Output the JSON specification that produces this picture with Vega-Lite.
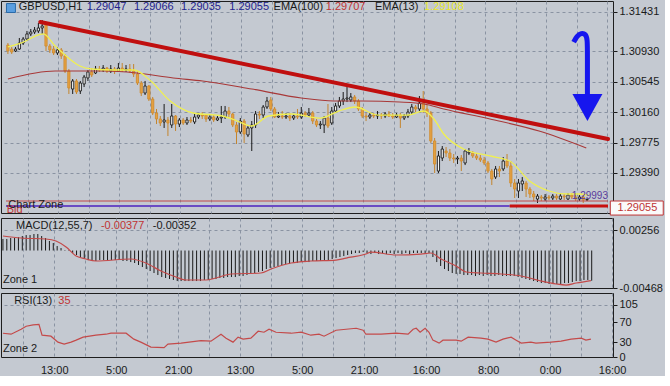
{
"$schema":"https://vega.github.io/schema/vega-lite/v6.json",
"background":"#c4c9d1",
"padding":0,
"bounds":"flush",
"spacing":5,
"config":{"view":{"stroke":"#1e1e1e","strokeWidth":1},
"axis":{"labelFont":"Liberation Sans","labelFontSize":11,"labelColor":"#1a1a1a","gridColor":"#8a93a2","gridDash":[3,3],"gridWidth":1,"tickColor":"#1a1a1a","domain":false},
"text":{"font":"Liberation Sans","fontSize":11,"baseline":"middle","align":"left"}},
"datasets":{
"candles":[
{"i":0,"o":1.31012,"h":1.31037,"l":1.30898,"c":1.30936,"m":0.00144},
{"i":1,"o":1.30961,"h":1.30987,"l":1.30898,"c":1.30923,"m":0.00144},
{"i":2,"o":1.30936,"h":1.30987,"l":1.30923,"c":1.30961,"m":0.00156},
{"i":3,"o":1.30961,"h":1.31101,"l":1.30949,"c":1.31037,"m":0.00156},
{"i":4,"o":1.31037,"h":1.31113,"l":1.31012,"c":1.31088,"m":0.00168},
{"i":5,"o":1.31088,"h":1.3119,"l":1.31063,"c":1.31152,"m":0.00181},
{"i":6,"o":1.31152,"h":1.31215,"l":1.31126,"c":1.31177,"m":0.00193},
{"i":7,"o":1.31177,"h":1.3124,"l":1.31152,"c":1.31202,"m":0.00193},
{"i":8,"o":1.3119,"h":1.31291,"l":1.31164,"c":1.31228,"m":0.00206},
{"i":9,"o":1.31228,"h":1.31329,"l":1.31152,"c":1.31253,"m":0.00206},
{"i":10,"o":1.31266,"h":1.31291,"l":1.30936,"c":1.30999,"m":0.00181},
{"i":11,"o":1.30999,"h":1.31025,"l":1.30911,"c":1.30949,"m":0.00156},
{"i":12,"o":1.30961,"h":1.30999,"l":1.30885,"c":1.30911,"m":0.00119},
{"i":13,"o":1.30911,"h":1.30987,"l":1.30885,"c":1.30949,"m":0.00094},
{"i":14,"o":1.30949,"h":1.30974,"l":1.30835,"c":1.30873,"m":0.00056},
{"i":15,"o":1.30873,"h":1.30898,"l":1.30657,"c":1.30682,"m":0.00031},
{"i":16,"o":1.30682,"h":1.30708,"l":1.30391,"c":1.30467,"m":0.00006},
{"i":17,"o":1.30454,"h":1.30581,"l":1.30391,"c":1.30556,"m":-0.00006},
{"i":18,"o":1.30556,"h":1.30581,"l":1.30391,"c":1.30416,"m":-0.00031},
{"i":19,"o":1.30429,"h":1.30556,"l":1.30391,"c":1.3053,"m":-0.00056},
{"i":20,"o":1.30518,"h":1.30632,"l":1.30479,"c":1.30606,"m":-0.00081},
{"i":21,"o":1.30594,"h":1.30695,"l":1.30556,"c":1.3067,"m":-0.00106},
{"i":22,"o":1.3067,"h":1.3072,"l":1.30606,"c":1.30632,"m":-0.00119},
{"i":23,"o":1.30657,"h":1.30746,"l":1.30644,"c":1.30708,"m":-0.00131},
{"i":24,"o":1.30708,"h":1.30746,"l":1.3067,"c":1.30695,"m":-0.00131},
{"i":25,"o":1.30695,"h":1.30758,"l":1.3067,"c":1.3072,"m":-0.00119},
{"i":26,"o":1.3072,"h":1.30733,"l":1.30657,"c":1.30682,"m":-0.00119},
{"i":27,"o":1.30682,"h":1.30758,"l":1.30657,"c":1.30708,"m":-0.00119},
{"i":28,"o":1.30708,"h":1.30733,"l":1.30644,"c":1.30682,"m":-0.00119},
{"i":29,"o":1.30682,"h":1.30784,"l":1.3067,"c":1.3072,"m":-0.00119},
{"i":30,"o":1.3072,"h":1.30784,"l":1.3067,"c":1.30695,"m":-0.00119},
{"i":31,"o":1.30695,"h":1.30758,"l":1.3067,"c":1.30708,"m":-0.00131},
{"i":32,"o":1.30708,"h":1.30771,"l":1.30657,"c":1.30682,"m":-0.00131},
{"i":33,"o":1.30682,"h":1.30771,"l":1.30606,"c":1.30644,"m":-0.00144},
{"i":34,"o":1.30644,"h":1.30682,"l":1.30505,"c":1.3053,"m":-0.00156},
{"i":35,"o":1.3053,"h":1.30556,"l":1.30365,"c":1.30403,"m":-0.00181},
{"i":36,"o":1.30403,"h":1.30556,"l":1.30378,"c":1.30492,"m":-0.00206},
{"i":37,"o":1.30492,"h":1.30505,"l":1.30302,"c":1.30327,"m":-0.00231},
{"i":38,"o":1.30327,"h":1.30353,"l":1.30124,"c":1.3015,"m":-0.00256},
{"i":39,"o":1.3015,"h":1.30201,"l":1.3001,"c":1.30074,"m":-0.00281},
{"i":40,"o":1.30074,"h":1.30112,"l":1.29985,"c":1.30023,"m":-0.00306},
{"i":41,"o":1.30036,"h":1.30264,"l":1.2996,"c":1.30061,"m":-0.00331},
{"i":42,"o":1.30061,"h":1.30099,"l":1.29858,"c":1.30023,"m":-0.00343},
{"i":43,"o":1.29998,"h":1.30264,"l":1.2996,"c":1.30112,"m":-0.00356},
{"i":44,"o":1.30112,"h":1.30124,"l":1.29922,"c":1.3001,"m":-0.00368},
{"i":45,"o":1.3001,"h":1.30086,"l":1.29972,"c":1.30061,"m":-0.00381},
{"i":46,"o":1.30061,"h":1.30086,"l":1.29998,"c":1.30023,"m":-0.00381},
{"i":47,"o":1.30023,"h":1.30099,"l":1.29998,"c":1.30061,"m":-0.00381},
{"i":48,"o":1.30061,"h":1.30099,"l":1.30023,"c":1.30048,"m":-0.00381},
{"i":49,"o":1.30036,"h":1.30137,"l":1.3001,"c":1.30099,"m":-0.00381},
{"i":50,"o":1.30099,"h":1.3015,"l":1.30074,"c":1.30124,"m":-0.00381},
{"i":51,"o":1.30124,"h":1.30162,"l":1.30074,"c":1.30112,"m":-0.00381},
{"i":52,"o":1.30124,"h":1.30137,"l":1.30036,"c":1.30074,"m":-0.00368},
{"i":53,"o":1.30074,"h":1.30137,"l":1.30048,"c":1.30099,"m":-0.00368},
{"i":54,"o":1.30099,"h":1.30124,"l":1.30036,"c":1.30061,"m":-0.00356},
{"i":55,"o":1.30061,"h":1.30112,"l":1.30048,"c":1.30086,"m":-0.00356},
{"i":56,"o":1.30086,"h":1.30239,"l":1.30023,"c":1.30099,"m":-0.00343},
{"i":57,"o":1.30099,"h":1.30239,"l":1.30074,"c":1.30175,"m":-0.00343},
{"i":58,"o":1.30175,"h":1.30226,"l":1.30099,"c":1.30137,"m":-0.00331},
{"i":59,"o":1.30137,"h":1.3015,"l":1.29972,"c":1.29998,"m":-0.00331},
{"i":60,"o":1.29998,"h":1.30036,"l":1.29757,"c":1.29909,"m":-0.00331},
{"i":61,"o":1.29909,"h":1.30086,"l":1.29884,"c":1.30048,"m":-0.00318},
{"i":62,"o":1.30048,"h":1.30074,"l":1.29769,"c":1.29884,"m":-0.00318},
{"i":63,"o":1.29871,"h":1.29985,"l":1.29845,"c":1.2996,"m":-0.00306},
{"i":64,"o":1.2996,"h":1.30048,"l":1.29668,"c":1.29998,"m":-0.00293},
{"i":65,"o":1.29998,"h":1.30175,"l":1.2996,"c":1.30137,"m":-0.00281},
{"i":66,"o":1.30137,"h":1.30175,"l":1.30074,"c":1.30124,"m":-0.00268},
{"i":67,"o":1.30124,"h":1.30251,"l":1.30086,"c":1.30226,"m":-0.00256},
{"i":68,"o":1.30226,"h":1.30353,"l":1.30201,"c":1.30302,"m":-0.00231},
{"i":69,"o":1.30315,"h":1.30353,"l":1.30175,"c":1.30201,"m":-0.00218},
{"i":70,"o":1.30201,"h":1.30226,"l":1.30086,"c":1.30099,"m":-0.00206},
{"i":71,"o":1.30099,"h":1.30162,"l":1.30086,"c":1.30112,"m":-0.00193},
{"i":72,"o":1.30112,"h":1.30175,"l":1.30074,"c":1.30099,"m":-0.00181},
{"i":73,"o":1.30099,"h":1.3015,"l":1.30074,"c":1.30112,"m":-0.00168},
{"i":74,"o":1.30112,"h":1.3015,"l":1.30048,"c":1.30086,"m":-0.00168},
{"i":75,"o":1.30086,"h":1.30137,"l":1.30061,"c":1.30112,"m":-0.00156},
{"i":76,"o":1.30112,"h":1.30201,"l":1.30074,"c":1.30099,"m":-0.00156},
{"i":77,"o":1.30099,"h":1.30226,"l":1.30074,"c":1.3015,"m":-0.00144},
{"i":78,"o":1.3015,"h":1.30175,"l":1.30099,"c":1.30124,"m":-0.00144},
{"i":79,"o":1.30124,"h":1.30213,"l":1.30099,"c":1.3015,"m":-0.00144},
{"i":80,"o":1.3015,"h":1.30175,"l":1.3001,"c":1.30048,"m":-0.00131},
{"i":81,"o":1.30048,"h":1.30074,"l":1.29972,"c":1.29998,"m":-0.00131},
{"i":82,"o":1.29998,"h":1.30048,"l":1.29947,"c":1.3001,"m":-0.00131},
{"i":83,"o":1.29998,"h":1.30112,"l":1.29896,"c":1.30086,"m":-0.00131},
{"i":84,"o":1.30086,"h":1.30264,"l":1.2996,"c":1.29985,"m":-0.00119},
{"i":85,"o":1.30023,"h":1.30226,"l":1.29998,"c":1.30175,"m":-0.00106},
{"i":86,"o":1.30175,"h":1.30277,"l":1.3015,"c":1.30239,"m":-0.00094},
{"i":87,"o":1.30239,"h":1.30353,"l":1.30213,"c":1.30302,"m":-0.00081},
{"i":88,"o":1.30302,"h":1.30416,"l":1.30251,"c":1.30327,"m":-0.00069},
{"i":89,"o":1.30327,"h":1.30479,"l":1.30289,"c":1.3034,"m":-0.00056},
{"i":90,"o":1.30315,"h":1.30403,"l":1.30289,"c":1.30353,"m":-0.00044},
{"i":91,"o":1.30353,"h":1.30378,"l":1.30264,"c":1.30302,"m":-0.00031},
{"i":92,"o":1.30302,"h":1.30327,"l":1.30175,"c":1.30201,"m":-0.00031},
{"i":93,"o":1.30201,"h":1.30226,"l":1.30086,"c":1.30112,"m":-0.00019},
{"i":94,"o":1.30112,"h":1.3015,"l":1.30048,"c":1.30099,"m":-0.00031},
{"i":95,"o":1.30099,"h":1.3015,"l":1.30074,"c":1.30124,"m":-0.00044},
{"i":96,"o":1.30124,"h":1.3015,"l":1.30086,"c":1.30112,"m":-0.00031},
{"i":97,"o":1.30112,"h":1.30175,"l":1.30074,"c":1.30124,"m":-0.00044},
{"i":98,"o":1.30124,"h":1.3015,"l":1.30074,"c":1.30112,"m":-0.00031},
{"i":99,"o":1.30112,"h":1.30162,"l":1.30086,"c":1.30137,"m":-0.00044},
{"i":100,"o":1.30137,"h":1.30175,"l":1.30099,"c":1.30112,"m":-0.00031},
{"i":101,"o":1.30112,"h":1.3015,"l":1.30074,"c":1.30099,"m":-0.00044},
{"i":102,"o":1.30099,"h":1.3015,"l":1.30086,"c":1.30124,"m":-0.00031},
{"i":103,"o":1.30124,"h":1.3015,"l":1.2996,"c":1.30086,"m":-0.00044},
{"i":104,"o":1.30086,"h":1.30137,"l":1.30061,"c":1.30112,"m":-0.00031},
{"i":105,"o":1.30112,"h":1.30201,"l":1.30086,"c":1.30162,"m":-0.00044},
{"i":106,"o":1.30162,"h":1.30264,"l":1.30137,"c":1.30226,"m":-0.00031},
{"i":107,"o":1.30226,"h":1.30251,"l":1.30162,"c":1.30201,"m":-0.00031},
{"i":108,"o":1.30201,"h":1.30365,"l":1.30175,"c":1.30277,"m":-0.00031},
{"i":109,"o":1.30277,"h":1.30429,"l":1.3015,"c":1.30201,"m":-0.00031},
{"i":110,"o":1.30201,"h":1.30251,"l":1.30099,"c":1.3015,"m":-0.00031},
{"i":111,"o":1.3015,"h":1.30175,"l":1.29769,"c":1.29795,"m":-0.00081},
{"i":112,"o":1.29795,"h":1.29833,"l":1.29389,"c":1.29503,"m":-0.00144},
{"i":113,"o":1.29414,"h":1.29668,"l":1.29389,"c":1.29605,"m":-0.00193},
{"i":114,"o":1.29579,"h":1.29731,"l":1.29541,"c":1.29693,"m":-0.00231},
{"i":115,"o":1.29668,"h":1.29719,"l":1.29592,"c":1.29643,"m":-0.00256},
{"i":116,"o":1.29643,"h":1.29693,"l":1.29541,"c":1.29579,"m":-0.00281},
{"i":117,"o":1.29579,"h":1.2963,"l":1.29516,"c":1.29567,"m":-0.00293},
{"i":118,"o":1.29567,"h":1.29605,"l":1.29503,"c":1.29579,"m":-0.00293},
{"i":119,"o":1.29579,"h":1.29617,"l":1.29414,"c":1.29541,"m":-0.00306},
{"i":120,"o":1.29516,"h":1.29693,"l":1.2949,"c":1.29668,"m":-0.00306},
{"i":121,"o":1.29643,"h":1.29706,"l":1.29617,"c":1.29655,"m":-0.00306},
{"i":122,"o":1.29643,"h":1.29668,"l":1.29579,"c":1.29605,"m":-0.00318},
{"i":123,"o":1.29605,"h":1.29643,"l":1.29554,"c":1.29579,"m":-0.00306},
{"i":124,"o":1.29579,"h":1.29617,"l":1.29529,"c":1.29554,"m":-0.00318},
{"i":125,"o":1.29554,"h":1.29592,"l":1.2949,"c":1.29516,"m":-0.00306},
{"i":126,"o":1.29516,"h":1.29541,"l":1.29389,"c":1.29414,"m":-0.00318},
{"i":127,"o":1.29414,"h":1.2944,"l":1.29237,"c":1.29313,"m":-0.00318},
{"i":128,"o":1.29338,"h":1.29478,"l":1.29313,"c":1.2944,"m":-0.00306},
{"i":129,"o":1.2944,"h":1.29478,"l":1.29338,"c":1.29414,"m":-0.00318},
{"i":130,"o":1.2944,"h":1.29592,"l":1.29414,"c":1.29541,"m":-0.00318},
{"i":131,"o":1.29541,"h":1.2963,"l":1.29452,"c":1.29478,"m":-0.00318},
{"i":132,"o":1.29478,"h":1.29541,"l":1.29212,"c":1.29262,"m":-0.00318},
{"i":133,"o":1.29262,"h":1.29313,"l":1.29072,"c":1.29186,"m":-0.00331},
{"i":134,"o":1.29161,"h":1.29313,"l":1.29072,"c":1.29262,"m":-0.00343},
{"i":135,"o":1.2925,"h":1.29338,"l":1.29161,"c":1.29288,"m":-0.00356},
{"i":136,"o":1.29262,"h":1.29288,"l":1.29085,"c":1.29186,"m":-0.00368},
{"i":137,"o":1.29186,"h":1.29212,"l":1.29072,"c":1.29123,"m":-0.00381},
{"i":138,"o":1.29123,"h":1.29161,"l":1.29034,"c":1.29085,"m":-0.00393},
{"i":139,"o":1.29059,"h":1.29123,"l":1.29009,"c":1.29097,"m":-0.00406},
{"i":140,"o":1.29085,"h":1.2911,"l":1.29034,"c":1.29072,"m":-0.00406},
{"i":141,"o":1.29059,"h":1.29123,"l":1.29034,"c":1.29085,"m":-0.00418},
{"i":142,"o":1.29085,"h":1.2911,"l":1.29047,"c":1.29072,"m":-0.00418},
{"i":143,"o":1.29072,"h":1.29123,"l":1.29047,"c":1.29097,"m":-0.00418},
{"i":144,"o":1.29097,"h":1.29123,"l":1.29047,"c":1.29072,"m":-0.00418},
{"i":145,"o":1.29059,"h":1.29135,"l":1.29047,"c":1.29097,"m":-0.00406},
{"i":146,"o":1.29097,"h":1.29123,"l":1.29047,"c":1.29085,"m":-0.00406},
{"i":147,"o":1.29059,"h":1.29135,"l":1.29047,"c":1.2911,"m":-0.00393},
{"i":148,"o":1.2911,"h":1.29135,"l":1.29059,"c":1.29085,"m":-0.00381},
{"i":149,"o":1.29085,"h":1.29135,"l":1.29034,"c":1.29059,"m":-0.00381},
{"i":150,"o":1.29059,"h":1.2911,"l":1.29034,"c":1.29085,"m":-0.00368},
{"i":151,"o":1.29085,"h":1.2911,"l":1.29009,"c":1.29047,"m":-0.00368},
{"i":152,"o":1.29047,"h":1.29066,"l":1.29035,"c":1.29055,"m":-0.00377}
],
"ema13":[
{"i":0,"p":1.30987},{"i":4.7,"p":1.31063},{"i":7.2,"p":1.31126},{"i":9.3,"p":1.31152},{"i":12.4,"p":1.30999},{"i":15,"p":1.30885},{"i":18.9,"p":1.30746},{"i":22,"p":1.30708},{"i":27.9,"p":1.30695},{"i":33.1,"p":1.30695},{"i":37.5,"p":1.30556},{"i":42.6,"p":1.30302},{"i":48.6,"p":1.3015},{"i":56.3,"p":1.30112},{"i":60.2,"p":1.30048},{"i":64,"p":1.29985},{"i":68.4,"p":1.30112},{"i":74.4,"p":1.30137},{"i":82.1,"p":1.30086},{"i":86.8,"p":1.30175},{"i":91.2,"p":1.30226},{"i":97.1,"p":1.30124},{"i":104.8,"p":1.30124},{"i":109.2,"p":1.30175},{"i":111.8,"p":1.30074},{"i":114.4,"p":1.29884},{"i":119.6,"p":1.29693},{"i":126.5,"p":1.29605},{"i":131.7,"p":1.29541},{"i":136.9,"p":1.29288},{"i":142,"p":1.29161},{"i":146.7,"p":1.29123},{"i":149.8,"p":1.29123},{"i":152.4,"p":1.29108}
],
"ema100":[
{"i":0,"p":1.30581},{"i":12.4,"p":1.30682},{"i":25.3,"p":1.30682},{"i":33.8,"p":1.30657},{"i":43.4,"p":1.30594},{"i":51.1,"p":1.30556},{"i":64,"p":1.30454},{"i":77,"p":1.3034},{"i":85.5,"p":1.30302},{"i":93,"p":1.30302},{"i":102.8,"p":1.30289},{"i":109.2,"p":1.30264},{"i":114.4,"p":1.30201},{"i":126.5,"p":1.30074},{"i":139.4,"p":1.29922},{"i":151.8,"p":1.29707}
],
"hl":[
{"g":"bid","i":-0.5,"p":1.29034},{"g":"bid","i":157.5,"p":1.29034},
{"g":"zone","i":-0.5,"p":1.28971},{"g":"zone","i":131.7,"p":1.28971},
{"g":"sup","i":131.7,"p":1.28971},{"g":"sup","i":157.5,"p":1.28971},
{"g":"trend","i":8.5,"p":1.31304},{"g":"trend","i":157.5,"p":1.2982}
],
"pricebox":[{"i":158.1,"i2":172.0,"p":1.29034,"p2":1.28856}],
"mtext":[
{"i":2.86,"p":1.31494,"t":"GBPUSD,H1","k":"dark"},
{"i":20.67,"p":1.31494,"t":"1.29047","k":"blue"},
{"i":33.07,"p":1.31494,"t":"1.29066","k":"blue"},
{"i":45.46,"p":1.31494,"t":"1.29035","k":"blue"},
{"i":58.11,"p":1.31494,"t":"1.29055","k":"blue"},
{"i":69.73,"p":1.31494,"t":"EMA(100)","k":"dark"},
{"i":83.41,"p":1.31494,"t":"1.29707","k":"red"},
{"i":96.32,"p":1.31494,"t":"EMA(13)","k":"dark"},
{"i":109.23,"p":1.31494,"t":"1.29108","k":"yellow"},
{"i":-0.3,"p":1.28915,"t":"Bid","k":"red"},
{"i":0.1,"p":1.28983,"t":"Chart Zone","k":"dark"},
{"i":160,"p":1.28945,"t":"1.29055","k":"red"}
],
"mtextr":[{"i":157.5,"p":1.29097,"t":"1.29993","k":"purple"}],
"icon":[{"i":0.8,"p":1.31481}],
"arrow":[
{"s":0,"i":148.5,"p":1.3105},{"s":1,"i":149.3,"p":1.31126},{"s":2,"i":150.5,"p":1.31164},{"s":3,"i":151.6,"p":1.31152},{"s":4,"i":152.1,"p":1.31088},{"s":5,"i":152.1,"p":1.309},{"s":6,"i":152.1,"p":1.30365}
],
"arrowhead":[{"i":152.1,"p":1.30239}],
"signal":[
{"i":0,"v":0.00181},{"i":4.7,"v":0.00156},{"i":11.1,"v":0.00144},{"i":13.7,"v":0.00119},{"i":16.3,"v":0.00044},{"i":18.9,"v":-0.00069},{"i":21.4,"v":-0.00106},{"i":24,"v":-0.00131},{"i":33.1,"v":-0.00106},{"i":36.9,"v":-0.00156},{"i":40.8,"v":-0.00256},{"i":44.7,"v":-0.00331},{"i":47.3,"v":-0.00368},{"i":52.4,"v":-0.00368},{"i":55,"v":-0.00343},{"i":58.9,"v":-0.00293},{"i":66.6,"v":-0.00281},{"i":69.2,"v":-0.00231},{"i":74.4,"v":-0.00156},{"i":79.5,"v":-0.00131},{"i":86,"v":-0.00119},{"i":88.6,"v":-0.00094},{"i":93.7,"v":-0.00044},{"i":95,"v":-0.00019},{"i":101.5,"v":-0.00056},{"i":107.9,"v":-0.00044},{"i":110.5,"v":-0.00031},{"i":113.1,"v":-0.00106},{"i":117,"v":-0.00193},{"i":119.6,"v":-0.00268},{"i":123.4,"v":-0.00281},{"i":128.6,"v":-0.00293},{"i":133.8,"v":-0.00318},{"i":138.9,"v":-0.00381},{"i":142.8,"v":-0.00418},{"i":145.4,"v":-0.00431},{"i":148,"v":-0.00406},{"i":151.8,"v":-0.00375}
],
"macdtext":[
{"i":3.4,"v":0.00306,"t":"MACD(12,55,7)","k":"dark"},
{"i":25.3,"v":0.00306,"t":"-0.00377","k":"red"},
{"i":38.7,"v":0.00306,"t":"-0.00352","k":"dark"},
{"i":0,"v":-0.00374,"t":"Zone 1","k":"dark"}
],
"rsi":[
{"i":0,"v":48},{"i":2.1,"v":46},{"i":4.7,"v":56},{"i":6,"v":62},{"i":7.8,"v":65},{"i":9.3,"v":66},{"i":10.1,"v":44},{"i":12.4,"v":42},{"i":14.2,"v":30},{"i":15.8,"v":26},{"i":17.6,"v":30},{"i":18.9,"v":34},{"i":20.7,"v":40},{"i":24,"v":44},{"i":26.6,"v":46},{"i":27.9,"v":48},{"i":31.8,"v":48},{"i":33.8,"v":36},{"i":35.6,"v":30},{"i":38.2,"v":20},{"i":41.6,"v":19},{"i":42.6,"v":26},{"i":46,"v":28},{"i":51.1,"v":33},{"i":53.7,"v":32},{"i":56.3,"v":46},{"i":57.6,"v":38},{"i":59.4,"v":30},{"i":60.7,"v":40},{"i":62,"v":36},{"i":64,"v":38},{"i":65.9,"v":52},{"i":67.4,"v":50},{"i":68.7,"v":56},{"i":70.5,"v":50},{"i":74.4,"v":48},{"i":77,"v":50},{"i":79.5,"v":44},{"i":81.6,"v":46},{"i":82.9,"v":42},{"i":86,"v":54},{"i":88.6,"v":56},{"i":91.2,"v":58},{"i":93,"v":54},{"i":93.7,"v":46},{"i":97.6,"v":46},{"i":101.5,"v":48},{"i":104.6,"v":46},{"i":105.9,"v":56},{"i":106.7,"v":58},{"i":107.7,"v":50},{"i":109,"v":58},{"i":110,"v":50},{"i":111,"v":34},{"i":112.6,"v":28},{"i":113.6,"v":34},{"i":117,"v":34},{"i":118.3,"v":32},{"i":120.1,"v":40},{"i":123.4,"v":38},{"i":125.2,"v":36},{"i":127.3,"v":30},{"i":129.1,"v":36},{"i":131.2,"v":40},{"i":132.5,"v":34},{"i":133.8,"v":28},{"i":136.3,"v":30},{"i":137.6,"v":28},{"i":141.5,"v":30},{"i":144.1,"v":32},{"i":146.7,"v":36},{"i":149.3,"v":38},{"i":150.5,"v":34},{"i":151.8,"v":36}
],
"rsitext":[
{"i":2.9,"v":113,"t":"RSI(13)","k":"dark"},
{"i":14.3,"v":113,"t":"35","k":"red"},
{"i":0,"v":16,"t":"Zone 2","k":"dark"}
]
},
"vconcat":[
{
"width":612,"height":212,
"encoding":{"x":{"field":"i","type":"quantitative","scale":{"domain":[-0.5,157.5],"nice":false,"zero":false},"axis":{"values":[5.25,13.25,21.25,29.25,37.25,45.25,53.25,61.25,69.25,77.25,85.25,93.25,101.25,109.25,117.25,125.25,133.25,141.25,149.25,157.25],"labels":false,"ticks":false,"grid":true,"title":null}}},
"layer":[
{"data":{"name":"candles"},"mark":{"type":"rule","strokeWidth":1},
"encoding":{"y":{"field":"h","type":"quantitative","scale":{"domain":[1.28882,1.3157],"nice":false,"zero":false},"axis":{"orient":"right","values":[1.31431,1.3093,1.30545,1.3016,1.29775,1.2939],"format":".5f","tickSize":4,"labelPadding":2,"grid":true,"title":null}},"y2":{"field":"l"},
"color":{"condition":{"test":"datum.c > datum.o","value":"#1a1a1a"},"value":"#c4852e"}}},
{"data":{"name":"candles"},"mark":{"type":"bar","size":2.2,"strokeWidth":0.9},
"encoding":{"y":{"field":"o","type":"quantitative","scale":{"domain":[1.28882,1.3157],"nice":false,"zero":false},"axis":{"orient":"right","values":[1.31431,1.3093,1.30545,1.3016,1.29775,1.2939],"format":".5f","tickSize":4,"labelPadding":2,"grid":true,"title":null}},"y2":{"field":"c"},
"fill":{"condition":{"test":"datum.c > datum.o","value":"#f4f4f4"},"value":"#e6a242"},
"stroke":{"condition":{"test":"datum.c > datum.o","value":"#1a1a1a"},"value":"#d08c30"}}},
{"data":{"name":"ema100"},"mark":{"type":"line","color":"#a83838","strokeWidth":1.1,"interpolate":"monotone"},
"encoding":{"y":{"field":"p","type":"quantitative","scale":{"domain":[1.28882,1.3157],"nice":false,"zero":false},"axis":{"orient":"right","values":[1.31431,1.3093,1.30545,1.3016,1.29775,1.2939],"format":".5f","tickSize":4,"labelPadding":2,"grid":true,"title":null}}}},
{"data":{"name":"ema13"},"mark":{"type":"line","color":"#f0f050","strokeWidth":1.3,"interpolate":"monotone"},
"encoding":{"y":{"field":"p","type":"quantitative","scale":{"domain":[1.28882,1.3157],"nice":false,"zero":false},"axis":{"orient":"right","values":[1.31431,1.3093,1.30545,1.3016,1.29775,1.2939],"format":".5f","tickSize":4,"labelPadding":2,"grid":true,"title":null}}}},
{"data":{"name":"hl"},"transform":[{"filter":"datum.g == 'bid'"}],"mark":{"type":"line","color":"#c04848","strokeWidth":1},
"encoding":{"y":{"field":"p","type":"quantitative","scale":{"domain":[1.28882,1.3157],"nice":false,"zero":false},"axis":{"orient":"right","values":[1.31431,1.3093,1.30545,1.3016,1.29775,1.2939],"format":".5f","tickSize":4,"labelPadding":2,"grid":true,"title":null}}}},
{"data":{"name":"hl"},"transform":[{"filter":"datum.g == 'zone'"}],"mark":{"type":"line","color":"#6a4cc4","strokeWidth":2},
"encoding":{"y":{"field":"p","type":"quantitative","scale":{"domain":[1.28882,1.3157],"nice":false,"zero":false},"axis":{"orient":"right","values":[1.31431,1.3093,1.30545,1.3016,1.29775,1.2939],"format":".5f","tickSize":4,"labelPadding":2,"grid":true,"title":null}}}},
{"data":{"name":"hl"},"transform":[{"filter":"datum.g == 'sup'"}],"mark":{"type":"line","color":"#c81010","strokeWidth":3},
"encoding":{"y":{"field":"p","type":"quantitative","scale":{"domain":[1.28882,1.3157],"nice":false,"zero":false},"axis":{"orient":"right","values":[1.31431,1.3093,1.30545,1.3016,1.29775,1.2939],"format":".5f","tickSize":4,"labelPadding":2,"grid":true,"title":null}}}},
{"data":{"name":"hl"},"transform":[{"filter":"datum.g == 'trend'"}],"mark":{"type":"line","color":"#c00f0f","strokeWidth":4,"strokeCap":"round"},
"encoding":{"y":{"field":"p","type":"quantitative","scale":{"domain":[1.28882,1.3157],"nice":false,"zero":false},"axis":{"orient":"right","values":[1.31431,1.3093,1.30545,1.3016,1.29775,1.2939],"format":".5f","tickSize":4,"labelPadding":2,"grid":true,"title":null}}}},
{"data":{"name":"pricebox"},"mark":{"type":"rect","fill":"#fafafa","stroke":"#c03434","strokeWidth":1},
"encoding":{"x2":{"field":"i2"},"y":{"field":"p","type":"quantitative","scale":{"domain":[1.28882,1.3157],"nice":false,"zero":false},"axis":{"orient":"right","values":[1.31431,1.3093,1.30545,1.3016,1.29775,1.2939],"format":".5f","tickSize":4,"labelPadding":2,"grid":true,"title":null}},"y2":{"field":"p2"}}},
{"data":{"name":"icon"},"mark":{"type":"point","shape":"square","size":80,"filled":true,"color":"#5a9ee0","opacity":1,"stroke":"#2a6aa8","strokeWidth":1},
"encoding":{"y":{"field":"p","type":"quantitative","scale":{"domain":[1.28882,1.3157],"nice":false,"zero":false},"axis":{"orient":"right","values":[1.31431,1.3093,1.30545,1.3016,1.29775,1.2939],"format":".5f","tickSize":4,"labelPadding":2,"grid":true,"title":null}}}},
{"data":{"name":"mtext"},"mark":{"type":"text"},
"encoding":{"y":{"field":"p","type":"quantitative","scale":{"domain":[1.28882,1.3157],"nice":false,"zero":false},"axis":{"orient":"right","values":[1.31431,1.3093,1.30545,1.3016,1.29775,1.2939],"format":".5f","tickSize":4,"labelPadding":2,"grid":true,"title":null}},"text":{"field":"t"},
"color":{"field":"k","type":"nominal","scale":{"domain":["dark","blue","red","yellow","purple"],"range":["#1a1a1a","#23238e","#c03434","#e8e828","#5a3c9c"]},"legend":null}}},
{"data":{"name":"mtextr"},"mark":{"type":"text","align":"right","fontSize":10},
"encoding":{"y":{"field":"p","type":"quantitative","scale":{"domain":[1.28882,1.3157],"nice":false,"zero":false},"axis":{"orient":"right","values":[1.31431,1.3093,1.30545,1.3016,1.29775,1.2939],"format":".5f","tickSize":4,"labelPadding":2,"grid":true,"title":null}},"text":{"field":"t"},
"color":{"field":"k","type":"nominal","scale":{"domain":["dark","blue","red","yellow","purple"],"range":["#1a1a1a","#23238e","#c03434","#e8e828","#5a3c9c"]},"legend":null}}},
{"data":{"name":"arrow"},"mark":{"type":"line","color":"#1616ee","strokeWidth":5,"interpolate":"basis"},
"encoding":{"y":{"field":"p","type":"quantitative","scale":{"domain":[1.28882,1.3157],"nice":false,"zero":false},"axis":{"orient":"right","values":[1.31431,1.3093,1.30545,1.3016,1.29775,1.2939],"format":".5f","tickSize":4,"labelPadding":2,"grid":true,"title":null}},"order":{"field":"s"}}},
{"data":{"name":"arrowhead"},"mark":{"type":"point","shape":"M-1,-0.8L1,-0.8L0,1Z","size":900,"filled":true,"color":"#1616ee","opacity":1},
"encoding":{"y":{"field":"p","type":"quantitative","scale":{"domain":[1.28882,1.3157],"nice":false,"zero":false},"axis":{"orient":"right","values":[1.31431,1.3093,1.30545,1.3016,1.29775,1.2939],"format":".5f","tickSize":4,"labelPadding":2,"grid":true,"title":null}}}}
]
},
{
"width":612,"height":70,
"encoding":{"x":{"field":"i","type":"quantitative","scale":{"domain":[-0.5,157.5],"nice":false,"zero":false},"axis":{"values":[5.25,13.25,21.25,29.25,37.25,45.25,53.25,61.25,69.25,77.25,85.25,93.25,101.25,109.25,117.25,125.25,133.25,141.25,149.25,157.25],"labels":false,"ticks":false,"grid":true,"title":null}}},
"layer":[
{"data":{"name":"candles"},"mark":{"type":"rule","color":"#1a1a1a","strokeWidth":1},
"encoding":{"y":{"field":"m","type":"quantitative","scale":{"domain":[-0.00468,0.00406],"nice":false,"zero":false},"axis":{"orient":"right","values":[0.00256,-0.00468],"labelExpr":"datum.value < 0 ? '-0.00468' : '0.00256'","tickSize":4,"labelPadding":2,"grid":true,"gridOpacity":{"condition":{"test":"datum.value > 0","value":1},"value":0},"title":null}},"y2":{"datum":0}}},
{"data":{"name":"signal"},"mark":{"type":"line","color":"#c44a4a","strokeWidth":1.2,"interpolate":"monotone"},
"encoding":{"y":{"field":"v","type":"quantitative","scale":{"domain":[-0.00468,0.00406],"nice":false,"zero":false},"axis":{"orient":"right","values":[0.00256,-0.00468],"labelExpr":"datum.value < 0 ? '-0.00468' : '0.00256'","tickSize":4,"labelPadding":2,"grid":true,"gridOpacity":{"condition":{"test":"datum.value > 0","value":1},"value":0},"title":null}}}},
{"data":{"name":"macdtext"},"mark":{"type":"text"},
"encoding":{"y":{"field":"v","type":"quantitative","scale":{"domain":[-0.00468,0.00406],"nice":false,"zero":false},"axis":{"orient":"right","values":[0.00256,-0.00468],"labelExpr":"datum.value < 0 ? '-0.00468' : '0.00256'","tickSize":4,"labelPadding":2,"grid":true,"gridOpacity":{"condition":{"test":"datum.value > 0","value":1},"value":0},"title":null}},"text":{"field":"t"},
"color":{"field":"k","type":"nominal","scale":{"domain":["dark","blue","red","yellow","purple"],"range":["#1a1a1a","#23238e","#c03434","#e8e828","#5a3c9c"]},"legend":null}}}
]
},
{
"width":612,"height":64,
"encoding":{"x":{"field":"i","type":"quantitative","scale":{"domain":[-0.5,157.5],"nice":false,"zero":false},"axis":{"values":[5.25,13.25,21.25,29.25,37.25,45.25,53.25,61.25,69.25,77.25,85.25,93.25,101.25,109.25,117.25,125.25,133.25,141.25,149.25,157.25],"labelExpr":"(datum.value - 13.25) % 16 == 0 ? ['13:00','5:00','21:00','13:00','5:00','21:00','16:00','8:00','0:00','16:00'][round((datum.value - 13.25) / 16)] : ''","ticks":false,"tickSize":0,"labelPadding":7,"labelOverlap":false,"labelFlush":false,"labelBound":false,"grid":true,"title":null}}},
"layer":[
{"data":{"name":"rsi"},"mark":{"type":"line","color":"#c44a4a","strokeWidth":1.2},
"encoding":{"y":{"field":"v","type":"quantitative","scale":{"domain":[0,129.2],"nice":false,"zero":false},"axis":{"orient":"right","values":[105,70,30,0],"tickSize":4,"labelPadding":2,"grid":true,"gridOpacity":{"condition":{"test":"datum.value == 105","value":1},"value":0},"title":null}}}},
{"data":{"name":"rsitext"},"mark":{"type":"text"},
"encoding":{"y":{"field":"v","type":"quantitative","scale":{"domain":[0,129.2],"nice":false,"zero":false},"axis":{"orient":"right","values":[105,70,30,0],"tickSize":4,"labelPadding":2,"grid":true,"gridOpacity":{"condition":{"test":"datum.value == 105","value":1},"value":0},"title":null}},"text":{"field":"t"},
"color":{"field":"k","type":"nominal","scale":{"domain":["dark","blue","red","yellow","purple"],"range":["#1a1a1a","#23238e","#c03434","#e8e828","#5a3c9c"]},"legend":null}}}
]
}
]
}
